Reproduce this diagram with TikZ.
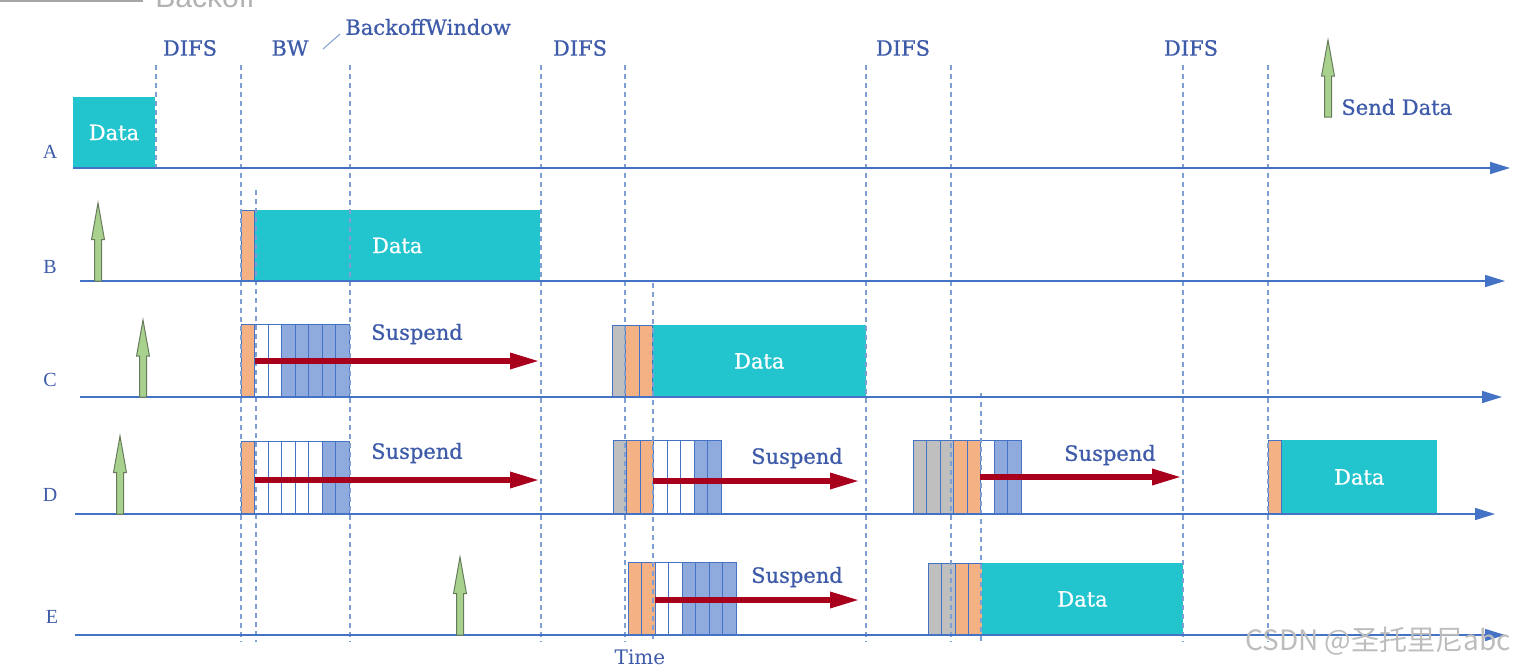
\documentclass[tikz,border=0pt]{standalone}
\usepackage{fontspec}
\setmainfont{DejaVu Serif}
\newfontfamily\heavyf{DejaVu Serif}[FakeBold=0.8]
\newfontfamily\lblfont{Liberation Serif}
\newfontfamily\cjkfont{Noto Sans CJK SC}
\newfontfamily\sansf{Liberation Sans}
\usetikzlibrary{arrows.meta}
\definecolor{databg}{HTML}{22C4CE}
\definecolor{so}{HTML}{F4B183}
\definecolor{sg}{HTML}{BFBFBF}
\definecolor{sw}{HTML}{FFFFFF}
\definecolor{sb}{HTML}{8FAADC}
\definecolor{slotedge}{HTML}{4472C4}
\definecolor{txtblue}{HTML}{3E5BA9}
\definecolor{axisblue}{HTML}{4472C4}
\definecolor{dashblue}{HTML}{7F9FD0}
\definecolor{suspred}{HTML}{A8001C}
\definecolor{grnfill}{HTML}{A9D18E}
\definecolor{grnedge}{HTML}{667A5C}
\definecolor{wmgray}{HTML}{BDBDBD}
\newcommand\slotrun[4]{%
  \foreach \c [count=\i from 0] in {#4} {
    \draw[slot, fill=\c] ({#1+\i*13.5},#2) rectangle ({#1+(\i+1)*13.5},#3);
  }}
\newcommand\databox[5]{%
  \fill[databg] (#2,#3) rectangle (#4,#5);
  \node[datatext] (#1) at ({(#2+#4)/2},{(#3+#5)/2}) {Data};}
\newcommand\garrow[3]{%
  \draw[garrowst] ({#1-3.5},#2) -- ({#1-3.5},{#3+0.47*(#2-#3)}) -- ({#1-6.5},{#3+0.47*(#2-#3)})
    -- (#1,#3) -- ({#1+6.5},{#3+0.47*(#2-#3)}) -- ({#1+3.5},{#3+0.47*(#2-#3)}) -- ({#1+3.5},#2) -- cycle;}
\begin{document}
\begin{tikzpicture}[x=0.5pt,y=-0.5pt,
  slot/.style={draw=slotedge, line width=0.5pt},
  datatext/.style={text=white, font=\heavyf\fontsize{10.5}{12}\selectfont, inner sep=0pt},
  lbl/.style={text=txtblue, font=\heavyf\fontsize{10.5}{12}\selectfont, inner sep=0pt},
  rowlbl/.style={text=txtblue, font=\lblfont\fontsize{10}{12}\selectfont, inner sep=0pt},
  axisline/.style={draw=axisblue, line width=0.75pt, -{Triangle[length=10pt,width=6pt]}},
  dashln/.style={draw=dashblue, line width=0.6pt, dash pattern=on 2.5pt off 2pt},
  susp/.style={draw=suspred, line width=3pt, -{Triangle[length=15pt,width=7.5pt]}},
  garrowst/.style={fill=grnfill, draw=grnedge, line width=0.5pt}]
\useasboundingbox (0,0) rectangle (1520,670);
% cropped artefacts at the top
\draw[draw=gray!70, line width=1pt] (0,1) -- (143,1);
\node[anchor=base west, text=gray!60, font=\sansf\fontsize{15}{16}\selectfont, inner sep=0pt] (bk) at (155,7) {Backoff};
% data boxes
\databox{dA}{73}{97}{155}{168}
\slotrun{241}{210}{281}{so}
\databox{dB}{254.5}{210}{540}{281}
\slotrun{241}{324}{397}{so,sw,sw,sb,sb,sb,sb,sb}
\slotrun{612}{325}{397}{sg,so,so}
\databox{dC}{652.5}{325}{866}{397}
\slotrun{241}{441}{514}{so,sw,sw,sw,sw,sw,sb,sb}
\slotrun{613}{440}{514}{sg,so,so,sw,sw,sw,sb,sb}
\slotrun{913}{440}{513}{sg,sg,sg,so,so,sw,sb,sb}
\slotrun{1268}{440}{514}{so}
\databox{dD}{1281.5}{440}{1437}{514}
\slotrun{628}{562}{635}{so,so,sw,sw,sb,sb,sb,sb}
\slotrun{928}{563}{635}{sg,sg,so,so}
\databox{dE}{982}{563}{1183}{635}
% dashed time marks
\foreach \x/\ya/\yb in {156/65/170, 241/65/642, 256/190/642, 350/65/642, 541/65/642,
  625/65/642, 653/283/642, 866/65/642, 951/65/642, 981/393/642, 1183/65/642, 1268/65/642}
  \draw[dashln] (\x,\ya) -- (\x,\yb);
% axes
\coordinate (a0) at (73,168);  \coordinate (a1) at (1510,168);
\coordinate (b0) at (80,281);  \coordinate (b1) at (1505,281);
\coordinate (c0) at (80,397);  \coordinate (c1) at (1502,397);
\coordinate (e0) at (75,514);  \coordinate (e1) at (1495,514);
\coordinate (f0) at (75,635);  \coordinate (f1) at (1505,635);
\draw[axisline] (a0) -- (a1);
\draw[axisline] (b0) -- (b1);
\draw[axisline] (c0) -- (c1);
\draw[axisline] (e0) -- (e1);
\draw[axisline] (f0) -- (f1);
% suspend arrows
\coordinate (s1a) at (255,361); \coordinate (s1b) at (540,361);
\coordinate (s2a) at (255,480); \coordinate (s2b) at (540,480);
\coordinate (s3a) at (653,481); \coordinate (s3b) at (860,481);
\coordinate (s4a) at (980,477); \coordinate (s4b) at (1182,477);
\coordinate (s5a) at (655,600); \coordinate (s5b) at (860,600);
\draw[susp] (s1a) -- (s1b);
\draw[susp] (s2a) -- (s2b);
\draw[susp] (s3a) -- (s3b);
\draw[susp] (s4a) -- (s4b);
\draw[susp] (s5a) -- (s5b);
\node[lbl] (t1) at (417,334) {Suspend};
\node[lbl] (t2) at (417,453) {Suspend};
\node[lbl] (t3) at (797,458) {Suspend};
\node[lbl] (t4) at (1110,455) {Suspend};
\node[lbl] (t5) at (797,577) {Suspend};
% green send arrows
\garrow{1328}{117}{40}
\garrow{98}{281}{203}
\garrow{143}{397}{320}
\garrow{120}{514}{436}
\garrow{460}{635}{557}
\node[lbl, anchor=west] (sd) at (1341,107) {Send Data};
% top labels
\node[lbl] (l1) at (190,48) {DIFS};
\node[lbl] (l2) at (290,48) {BW};
\node[lbl] (l3) at (580,48) {DIFS};
\node[lbl] (l4) at (903,48) {DIFS};
\node[lbl] (l5) at (1191,48) {DIFS};
\node[lbl, anchor=west] (bw) at (345,27) {BackoffWindow};
\draw[draw=dashblue, line width=0.5pt] (323,49) -- (340,34);
% row labels
\node[rowlbl] (rA) at (50,152) {A};
\node[rowlbl] (rB) at (50,267) {B};
\node[rowlbl] (rC) at (50,380) {C};
\node[rowlbl] (rD) at (50,495) {D};
\node[rowlbl] (rE) at (52,617) {E};
\node[rowlbl, font=\fontsize{10}{12}\selectfont] (tm) at (640,657) {Time};
% watermark
\node[text=wmgray, font=\cjkfont\fontsize{14}{16}\selectfont, inner sep=0pt] (wm) at (1378,641) {CSDN @圣托里尼abc};
\end{tikzpicture}
\end{document}
